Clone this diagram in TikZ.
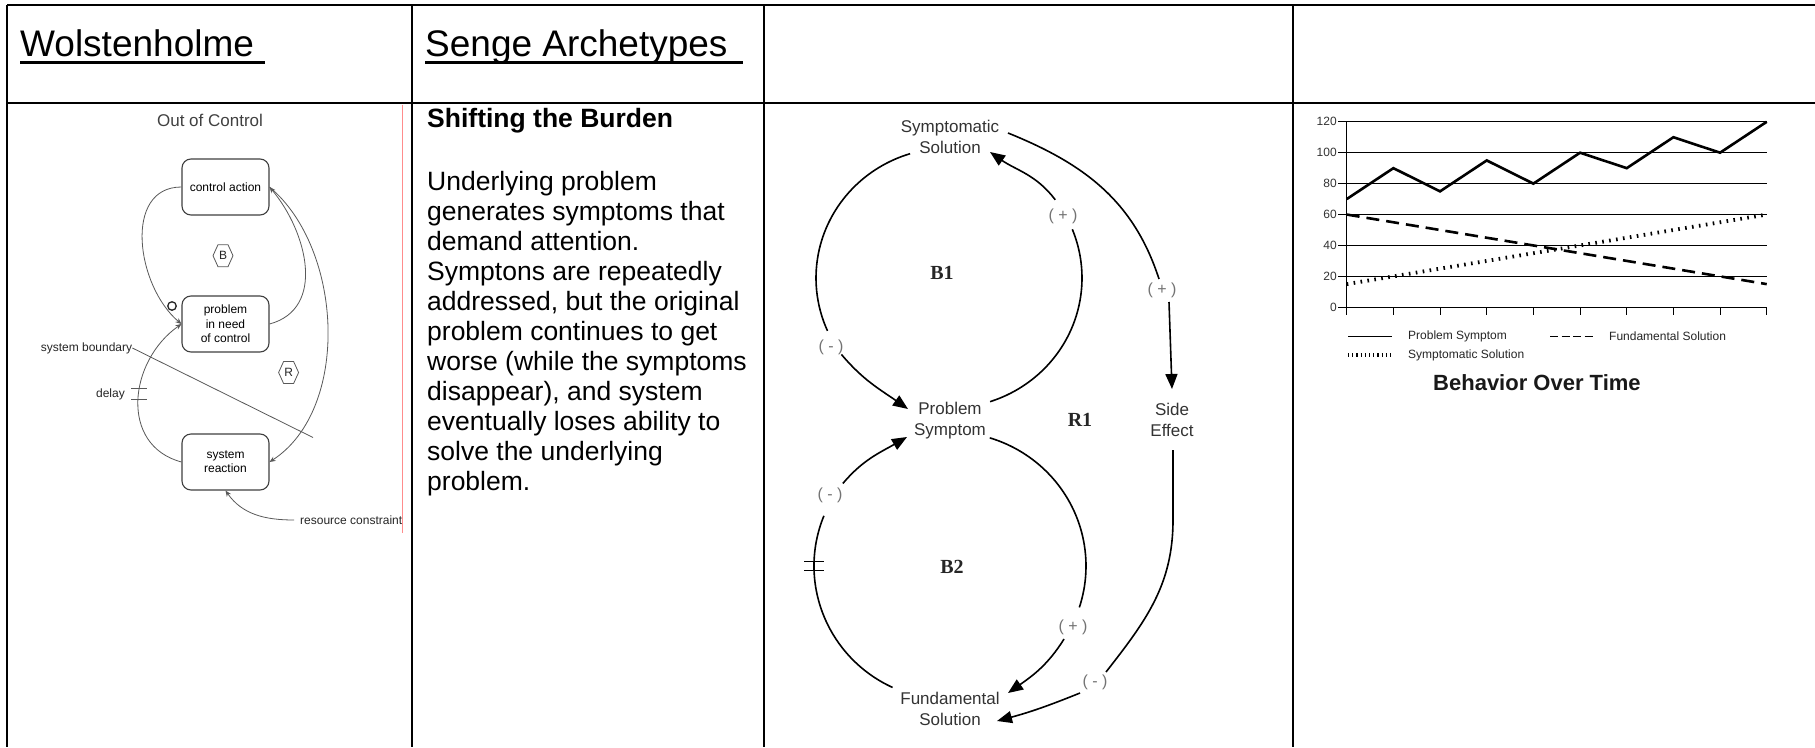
\documentclass[tikz,border=0pt]{standalone}
\usepackage{fontspec}
\setmainfont{Liberation Sans}
\newfontfamily\loopfont{Liberation Serif}
\usetikzlibrary{arrows.meta}
\newcommand{\pxfont}[2]{\fontsize{#1}{#2}\selectfont}

\begin{document}
\begin{tikzpicture}[x=1pt,y=1pt,
  tablerule/.style={line width=2.6pt},
  hdr/.style={font=\pxfont{37}{44}, inner sep=0pt, anchor=base west},
  bodytxt/.style={font=\pxfont{26.5}{30}, inner sep=0pt, anchor=base west},
  wbox/.style={draw=black!75, line width=1.1pt, rounded corners=9pt, minimum width=87pt,
    minimum height=56pt, align=center, font=\pxfont{12}{14.3}, inner sep=0pt},
  wlink/.style={draw=black!65, line width=0.8pt},
  wlinkarrow/.style={wlink, -{Stealth[length=6pt,width=5pt]}},
  wlabel/.style={font=\pxfont{12}{14}, text=black!85, inner sep=0pt},
  cld/.style={draw=black, line width=1.6pt},
  cldarrow/.style={cld, -{Triangle[length=15pt,width=12pt]}},
  cldtext/.style={font=\pxfont{17}{21}, text=black!80, align=center, inner sep=0pt},
  pol/.style={font=\pxfont{16}{18}, text=black!55, inner sep=0pt},
  loopname/.style={font=\loopfont\bfseries\pxfont{20}{24}, text=black!85, inner sep=0pt},
  gridline/.style={line width=0.9pt},
  leg/.style={font=\pxfont{12}{14}, text=black!85, inner sep=0pt, anchor=west},
]
\useasboundingbox (0,0) rectangle (1815,-747);
\fill[white] (0,0) rectangle (1815,-747);

% ---------- table frame ----------
\draw[tablerule] (7,-5) -- (1815,-5);
\draw[tablerule] (7,-103) -- (1815,-103);
\draw[tablerule] (7,-5) -- (7,-747);
\draw[tablerule] (412,-5) -- (412,-747);
\draw[tablerule] (764,-5) -- (764,-747);
\draw[tablerule] (1293,-5) -- (1293,-747);
\draw[red!45, line width=1pt] (402,-104.5) -- (402,-533);

% ---------- header row ----------
\node[hdr] (hWol) at (20,-56) {Wolstenholme};
\draw[line width=2.6pt] (20,-62.5) -- (265,-62.5);
\node[hdr] (hSenge) at (425,-56) {Senge Archetypes};
\draw[line width=2.6pt] (425,-62.5) -- (743,-62.5);

% ---------- archetype description ----------
\node[bodytxt] (sbHead) at (427,-127) {\bfseries Shifting the Burden};
\foreach \ln [count=\k from 0] in {{Underlying problem},{generates symptoms that},
  {demand attention.},{Symptons are repeatedly},{addressed, but the original},
  {problem continues to get},{worse (while the symptoms},{disappear), and system},
  {eventually loses ability to},{solve the underlying},{problem.}}
  \node[bodytxt] (sbLine\k) at (427,{-190-30*\k}) {\ln};

% ---------- Wolstenholme: out of control ----------
\node[font=\pxfont{17}{20}, text=black!75, inner sep=0pt] (ooc) at (210,-120) {Out of Control};
\node[wbox] (ca) at (225.5,-187) {control action};
\node[wbox] (pr) at (225.5,-324) {problem\\in need\\of control};
\node[wbox] (sr) at (225.5,-462) {system\\reaction};

\draw[wlinkarrow] (ca.west) to[out=180, in=140, looseness=1.1] (pr.west);
\draw[wlinkarrow] (sr.west) to[out=165, in=-145, looseness=1.2] (pr.west);
\draw[wlinkarrow] (pr.east) to[out=15, in=-50, looseness=1.1] (ca.east);
\draw[wlinkarrow] (ca.east) to[out=-40, in=33, looseness=0.9] (sr.east);

\node[circle, draw=black!85, line width=1.3pt, inner sep=0pt, minimum size=8.5pt] (opp) at (172,-306) {};

\node[wlabel, anchor=west] (rc) at (300,-520) {resource constraint};
\draw[wlinkarrow] ([xshift=-6pt]rc.west) to[out=180, in=-55, looseness=1] (sr.south);

\node[wlabel, anchor=west] (sb) at (40.6,-348) {system boundary};
\coordinate (sbEnd) at (313,-437.5);
\draw[wlink] (sb.east) -- (sbEnd);

\node[wlabel, anchor=east] (dl) at (125,-394) {delay};
\draw[wlink] (131.4,-388) -- (147.4,-388);
\draw[wlink] (131.4,-399.6) -- (147.4,-399.6);

\node[wlabel] (hexB) at (223,-255.7) {B};
\draw[wlink] (hexB.center) ++(-10,0) -- ++(5,11) -- ++(10,0) -- ++(5,-11) -- ++(-5,-11) -- ++(-10,0) -- cycle;
\node[wlabel] (hexR) at (288.6,-372.5) {R};
\draw[wlink] (hexR.center) ++(-10,0) -- ++(5,11) -- ++(10,0) -- ++(5,-11) -- ++(-5,-11) -- ++(-10,0) -- cycle;

% ---------- Senge causal loop diagram ----------
\node[cldtext] (ss) at (950,-137) {Symptomatic\\Solution};
\node[cldtext] (ps) at (950,-420.5) {Problem\\Symptom};
\node[cldtext] (fs) at (950,-709) {Fundamental\\Solution};
\node[cldtext] (se) at (1172,-420) {Side\\Effect};

\node[loopname] (b1) at (942,-273) {B1};
\node[loopname] (b2) at (952,-567) {B2};
\node[loopname] (r1) at (1080,-420) {R1};

\node[pol] (p1) at (1063,-216) {( + )};
\node[pol] (m1) at (831,-347) {( - )};
\node[pol] (m2) at (830,-495) {( - )};
\node[pol] (p2) at (1073,-627) {( + )};
\node[pol] (p3) at (1162,-290) {( + )};
\node[pol] (m3) at (1095,-682) {( - )};

\coordinate (B1c) at (949,-278);
\coordinate (B2c) at (950,-566);
\coordinate (psTipA) at (908,-409);
\coordinate (ssTip) at (990,-152);
\coordinate (psTipB) at (907,-437);
\coordinate (fsTipA) at (1008,-693);
\coordinate (fsTipB) at (997,-721);
\coordinate (seTip) at (1172,-389);

% B1: symptomatic solution -> problem symptom (-)
\draw[cld] (B1c) ++(107:133 and 130) arc[start angle=107, end angle=204, x radius=133, y radius=130];
\path (B1c) ++(216:133 and 130) coordinate (b1q);
\draw[cldarrow] (b1q) to[out=-50, in=145] (psTipA);
% B1: problem symptom -> symptomatic solution (+)
\draw[cld] (B1c) ++(-72:133 and 130) arc[start angle=-72, end angle=22, x radius=133, y radius=130];
\path (B1c) ++(37:133 and 130) coordinate (b1r);
\draw[cldarrow] (b1r) to[out=127, in=-35] (ssTip);

% B2: fundamental solution -> problem symptom (-), with delay
\draw[cld] (B2c) ++(245:136 and 134) arc[start angle=245, end angle=158, x radius=136, y radius=134];
\path (B2c) ++(142:136 and 134) coordinate (b2q);
\draw[cldarrow] (b2q) to[out=50, in=-150] (psTipB);
\path (B2c) ++(180:136 and 134) coordinate (b2d);
\draw[cld, line width=1.3pt] (b2d) ++(-10,4.5) -- ++(20,0);
\draw[cld, line width=1.3pt] (b2d) ++(-10,-4.5) -- ++(20,0);
% B2: problem symptom -> fundamental solution (+)
\draw[cld] (B2c) ++(73:136 and 134) arc[start angle=73, end angle=-18, x radius=136, y radius=134];
\path (B2c) ++(-33:136 and 134) coordinate (b2r);
\draw[cldarrow] (b2r) to[out=-122, in=35] (fsTipA);

% R1: symptomatic solution -> side effect (+) -> fundamental solution (-)
\coordinate (r1a) at (1008,-133);
\coordinate (r1b) at (1159,-279);
\draw[cld] (r1a) to[out=-22, in=108] (r1b);
\coordinate (r1c) at (1169,-302);
\draw[cldarrow] (r1c) -- (seTip);
\coordinate (r1d) at (1173,-450);
\coordinate (r1e) at (1173,-520);
\coordinate (r1f) at (1106,-672);
\draw[cld] (r1d) -- (r1e) to[out=-90, in=52] (r1f);
\coordinate (r1g) at (1080,-693);
\draw[cldarrow] (r1g) to[out=-158, in=15] (fsTipB);

% ---------- behaviour over time chart ----------
\begin{scope}[shift={(1346.7,-307.3)}, x=46.67pt, y=1.546pt]
  \foreach \v in {20,40,...,120}
    \draw[gridline] (0,\v) -- (9,\v);
  \draw[gridline] (0,0) -- (9,0);
  \draw[gridline] (0,0) -- (0,120);
  \foreach \i in {0,...,9}
    \draw[gridline] (\i,0) -- (\i,-5.2);
  \foreach \v in {0,20,...,120}{
    \draw[gridline] (0,\v) -- (-0.18,\v);
    \node[font=\pxfont{12}{14}, text=black!80, anchor=east, inner sep=0pt] (yl\v) at (-0.21,\v) {\v};
  }
  \draw[line width=2.6pt] (0,70) -- (1,90) -- (2,75) -- (3,95) -- (4,80) -- (5,100)
    -- (6,90) -- (7,110) -- (8,100) -- (9,120);
  \draw[line width=2.6pt, dash pattern=on 13pt off 7pt] (0,60) -- (9,15);
  \draw[line width=3.8pt, dash pattern=on 1.6pt off 5.4pt] (0,15) -- (9,60);
\end{scope}

\draw[line width=1pt] (1348,-336.7) -- (1392,-336.7);
\node[leg] (lg1) at (1408,-336.7) {Problem Symptom};
\draw[line width=1.3pt, dash pattern=on 8pt off 3.5pt] (1550,-336.7) -- (1594,-336.7);
\node[leg] (lg2) at (1609,-336.7) {Fundamental Solution};
\draw[line width=4pt, dash pattern=on 1.2pt off 3pt] (1348,-355) -- (1392,-355);
\node[leg] (lg3) at (1408,-355) {Symptomatic Solution};
\node[font=\pxfont{22}{26}\bfseries, text=black!90, inner sep=0pt, anchor=base west] (bot) at (1433,-390) {Behavior Over Time};

\end{tikzpicture}
\end{document}
